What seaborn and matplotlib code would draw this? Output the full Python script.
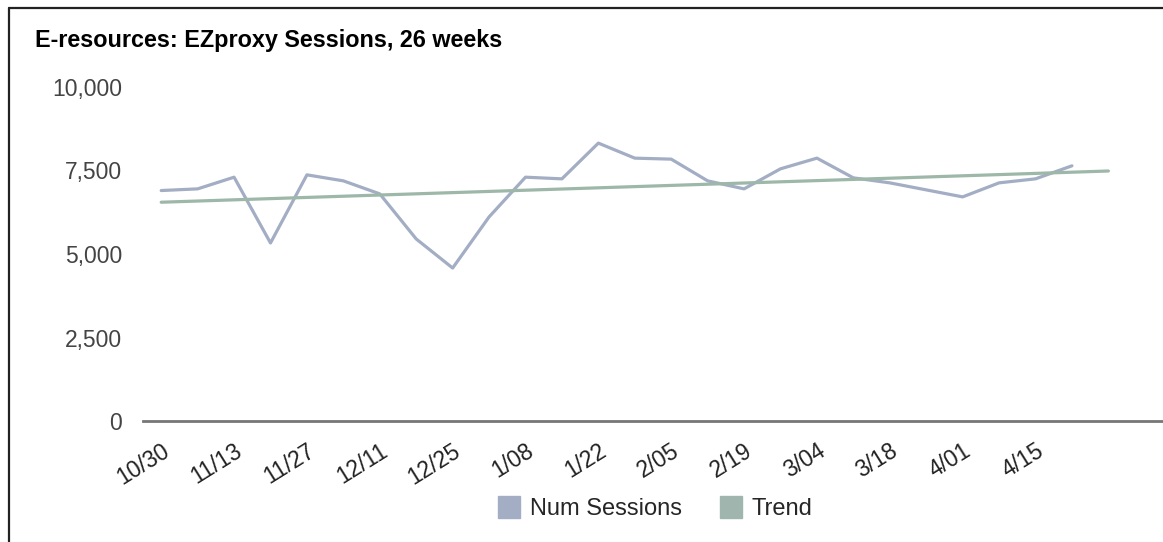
import pandas as pd
import seaborn as sns
import matplotlib.pyplot as plt
from matplotlib.lines import Line2D

# weekly EZproxy sessions (26 weeks)
weeks = ["10/30", "11/06", "11/13", "11/20", "11/27", "12/04", "12/11", "12/18",
         "12/25", "1/01", "1/08", "1/15", "1/22", "1/29", "2/05", "2/12",
         "2/19", "2/26", "3/04", "3/11", "3/18", "3/25", "4/01", "4/08",
         "4/15", "4/22"]
sessions = [6900, 6950, 7300, 5330, 7370, 7190, 6800, 5450, 4580, 6110,
            7300, 7250, 8320, 7870, 7840, 7190, 6950, 7550, 7870, 7280,
            7130, 6920, 6710, 7130, 7250, 7640]

# trend line end points (week index, value)
trend_idx = [0, 26]
trend_val = [6550, 7485]

tick_labels = weeks[::2]

LINE_COLOR = "#a3aec4"
TREND_COLOR = "#9db7a8"

sns.set_theme(style="white")
plt.rcParams['font.family'] = ['Liberation Sans', 'DejaVu Sans']

df = pd.DataFrame({"week": range(len(sessions)), "sessions": sessions})
trend_df = pd.DataFrame({"week": trend_idx, "trend": trend_val})

fig = plt.figure(figsize=(11.63, 5.42), dpi=100)
ax = fig.add_axes([143 / 1163, 121 / 542, 1 - 143 / 1163, (421 - 87) / 542])

sns.lineplot(data=df, x="week", y="sessions", ax=ax, color=LINE_COLOR, linewidth=2.3)
sns.lineplot(data=trend_df, x="week", y="trend", ax=ax, color=TREND_COLOR, linewidth=2.3)

ax.set_xlim(-0.5, 27.5)
ax.set_ylim(0, 10000)
ax.set_yticks([0, 2500, 5000, 7500, 10000])
ax.set_yticklabels(["0", "2,500", "5,000", "7,500", "10,000"], fontsize=16.5, color="#444444")
ax.set_xticks(range(0, len(weeks), 2))
ax.set_xticklabels(tick_labels, fontsize=16.5, color="#222222", rotation=32,
                   ha="right", rotation_mode="anchor")
ax.tick_params(axis="y", length=0, pad=15)
ax.tick_params(axis="x", length=0, pad=13)
ax.set_xlabel("")
ax.set_ylabel("")
for side in ["top", "right", "left"]:
    ax.spines[side].set_visible(False)
ax.spines["bottom"].set_color("#777777")
ax.spines["bottom"].set_linewidth(2)
ax.grid(False)

fig.text(35 / 1163, 1 - 40 / 542, "E-resources: EZproxy Sessions, 26 weeks",
         fontsize=16.8, fontweight="bold", color="black", va="center", ha="left")

handles = [Line2D([], [], linestyle="none", marker="s", markersize=16,
                  markerfacecolor=LINE_COLOR, markeredgecolor=LINE_COLOR),
           Line2D([], [], linestyle="none", marker="s", markersize=16,
                  markerfacecolor="#a0b5ae", markeredgecolor="#a0b5ae")]
fig.legend(handles, ["Num Sessions", "Trend"], loc="center", ncol=2,
           bbox_to_anchor=(652 / 1163, 1 - 509 / 542), frameon=False,
           fontsize=17, handletextpad=0.15, columnspacing=1.3, handlelength=1.5)

# outer frame (top and left edges visible in the reference)
fig.add_artist(Line2D([8.5 / 1163, 1], [1 - 7.5 / 542, 1 - 7.5 / 542],
                      color="#222222", linewidth=1.6, transform=fig.transFigure))
fig.add_artist(Line2D([8.5 / 1163, 8.5 / 1163], [0, 1 - 7.5 / 542],
                      color="#222222", linewidth=1.6, transform=fig.transFigure))

fig.savefig("out.png", dpi=100)
